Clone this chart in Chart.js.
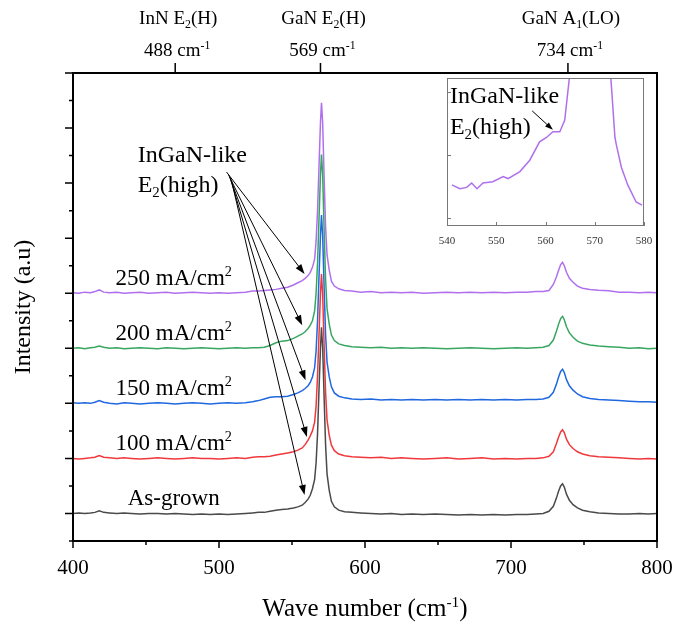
<!DOCTYPE html>
<html>
<head>
<meta charset="utf-8">
<script src="https://cdn.jsdelivr.net/npm/chart.js@4"></script>
<style>
  body { margin: 0; background: #fff; }
  #wrap { position: relative; width: 676px; height: 628px; }
  #main { position: absolute; left: 0; top: 0; }
  #inset { position: absolute; left: 430px; top: 70px; }
</style>
</head>
<body>
<div id="wrap">
  <canvas id="main" width="676" height="628"></canvas>
  <canvas id="inset" width="226" height="186"></canvas>
</div>
<script>
// wave number axis, shared by all five spectra (cm-1)
const wave = [400, 404, 408, 412, 415, 418, 421, 425, 430, 435,
  440, 446, 452, 458, 464, 470, 476, 482, 488, 494,
  500, 506, 512, 518, 523, 527, 531, 535, 539, 543,
  547, 551, 554, 557, 559, 561, 562.5, 564, 565.5, 566.5,
  567.5, 568.5, 569.5, 570.2, 571, 572, 573, 574, 575.5, 577,
  579, 582, 586, 591, 597, 604, 611, 618, 625, 632,
  640, 648, 656, 664, 672, 680, 688, 696, 704, 711,
  717, 722, 726, 729, 731, 732.5, 734, 735.3, 736.5, 738,
  740, 742.5, 745.5, 749, 754, 760, 767, 774, 781, 788,
  794, 800];

// intensities, each relative to its own baseline
const asGrown = [0.00, 0.01, 0.00, 0.01, 0.02, 0.05, 0.02, 0.01, 0.00, 0.01,
  0.00, -0.01, 0.00, 0.00, -0.01, 0.00, -0.01, -0.02, -0.01, -0.02,
  -0.01, -0.02, -0.01, 0.00, 0.01, 0.02, 0.02, 0.04, 0.06, 0.07,
  0.08, 0.1, 0.12, 0.15, 0.2, 0.26, 0.33, 0.45, 0.62, 0.92,
  1.45, 2.25, 3.0, 3.38, 3.02, 2.1, 1.25, 0.72, 0.42, 0.22,
  0.12, 0.06, 0.03, 0.02, 0.01, 0.00, -0.01, 0.00, -0.02, -0.01,
  -0.02, -0.01, -0.02, -0.03, -0.02, -0.03, -0.02, -0.03, -0.02, -0.02,
  -0.01, 0.00, 0.04, 0.13, 0.27, 0.4, 0.5, 0.54, 0.48, 0.35,
  0.24, 0.16, 0.1, 0.06, 0.03, 0.01, 0.00, -0.01, -0.01, 0.00,
  -0.01, 0.00];

const i100 = [0.00, -0.01, 0.00, 0.01, 0.02, 0.05, 0.02, 0.01, 0.00, 0.01,
  0.00, -0.01, 0.00, 0.01, 0.00, -0.01, 0.00, 0.01, 0.00, 0.00,
  -0.01, 0.00, 0.01, 0.00, 0.02, 0.03, 0.03, 0.04, 0.06, 0.08,
  0.1, 0.12, 0.15, 0.19, 0.25, 0.33, 0.41, 0.5, 0.66, 0.95,
  1.5, 2.25, 3.0, 3.35, 2.98, 2.05, 1.2, 0.7, 0.42, 0.24,
  0.14, 0.08, 0.05, 0.03, 0.02, 0.01, 0.02, 0.00, 0.01, 0.00,
  -0.01, 0.00, 0.01, -0.01, 0.00, 0.01, -0.01, 0.00, -0.01, 0.00,
  0.00, 0.01, 0.04, 0.12, 0.26, 0.38, 0.48, 0.52, 0.47, 0.35,
  0.25, 0.18, 0.12, 0.08, 0.05, 0.03, 0.02, 0.01, 0.00, -0.01,
  0.00, -0.01];

const i150 = [0.01, 0.00, 0.01, 0.00, 0.02, 0.05, 0.02, 0.00, -0.01, 0.01,
  0.00, -0.01, 0.00, 0.01, 0.00, -0.01, 0.00, 0.01, 0.00, -0.01,
  0.00, 0.01, 0.00, 0.01, 0.03, 0.05, 0.08, 0.11, 0.12, 0.12,
  0.13, 0.16, 0.19, 0.23, 0.27, 0.32, 0.38, 0.48, 0.65, 0.95,
  1.5, 2.3, 3.05, 3.42, 3.05, 2.1, 1.25, 0.75, 0.48, 0.3,
  0.19, 0.13, 0.1, 0.08, 0.07, 0.08, 0.06, 0.07, 0.06, 0.07,
  0.06, 0.07, 0.06, 0.07, 0.06, 0.07, 0.06, 0.07, 0.06, 0.07,
  0.07, 0.08, 0.11, 0.2, 0.34, 0.47, 0.58, 0.62, 0.56, 0.43,
  0.32, 0.24, 0.17, 0.12, 0.09, 0.07, 0.06, 0.05, 0.04, 0.03,
  0.03, 0.02];

const i200 = [0.00, 0.01, -0.01, 0.01, 0.02, 0.04, 0.02, 0.00, 0.01, -0.01,
  0.00, 0.01, 0.00, -0.01, 0.01, 0.00, -0.01, 0.00, 0.01, 0.00,
  -0.01, 0.00, 0.01, 0.00, 0.01, 0.01, 0.02, 0.05, 0.1, 0.13,
  0.14, 0.18, 0.22, 0.26, 0.3, 0.36, 0.42, 0.5, 0.68, 1.0,
  1.55, 2.35, 3.15, 3.52, 3.15, 2.15, 1.25, 0.72, 0.44, 0.24,
  0.14, 0.08, 0.05, 0.03, 0.02, 0.01, 0.02, 0.00, 0.01, 0.00,
  0.01, 0.00, -0.01, 0.00, 0.01, 0.00, -0.01, 0.00, 0.01, 0.00,
  0.01, 0.02, 0.05, 0.15, 0.3, 0.43, 0.54, 0.58, 0.52, 0.39,
  0.28, 0.2, 0.13, 0.09, 0.06, 0.04, 0.03, 0.02, 0.00, 0.01,
  -0.01, 0.00];

const i250 = [0.01, 0.00, 0.02, 0.01, 0.03, 0.06, 0.02, 0.01, 0.02, 0.00,
  0.01, 0.02, 0.00, 0.01, 0.02, 0.00, 0.01, 0.02, 0.01, 0.00,
  0.01, 0.00, 0.01, 0.02, 0.04, 0.04, 0.05, 0.06, 0.07, 0.09,
  0.11, 0.15, 0.19, 0.23, 0.27, 0.32, 0.38, 0.47, 0.62, 0.95,
  1.5, 2.3, 3.1, 3.46, 3.1, 2.1, 1.2, 0.7, 0.42, 0.22,
  0.13, 0.08, 0.05, 0.04, 0.02, 0.03, 0.01, 0.02, 0.01, 0.02,
  0.00, 0.01, 0.02, 0.01, 0.02, 0.01, 0.02, 0.01, 0.02, 0.02,
  0.03, 0.03, 0.05, 0.16, 0.29, 0.41, 0.52, 0.56, 0.5, 0.38,
  0.27, 0.2, 0.13, 0.09, 0.07, 0.055, 0.045, 0.02, 0.02, 0.01,
  0.02, 0.01];

const seriesValues = [asGrown, i100, i150, i200, i250];
const offsets = [0, 1, 2, 3, 4];
const seriesNames = ["As-grown", "100 mA/cm^{2}", "150 mA/cm^{2}", "200 mA/cm^{2}", "250 mA/cm^{2}"];

// top axis: peak positions and their labels
const topTickPos = [470, 569.5, 739];
const topTickLabels = [
  ["InN E_{2}(H)", "488 cm^{-1}"],
  ["GaN E_{2}(H)", "569 cm^{-1}"],
  ["GaN A_{1}(LO)", "734 cm^{-1}"],
];

// inset: zoom of the 250 mA/cm2 spectrum
const insetWave = [541, 542.6, 544, 545, 546.1, 547.3, 549.3, 551.4, 552.4, 554.8,
  556.8, 558.8, 560.2, 561.5, 562.9, 563.9, 564.9, 565.6, 567, 569.5,
  571, 572.5, 573.2, 574.1, 574.4, 575.4, 576.7, 578.4, 579.6];
const insetCounts = [1.53, 1.47, 1.49, 1.56, 1.47, 1.56, 1.58, 1.66, 1.63, 1.74,
  1.92, 2.21, 2.28, 2.37, 2.37, 2.55, 3.26, 4.5, 8, 14,
  11, 5, 3.3, 2.28, 2.16, 1.81, 1.53, 1.26, 1.21];
const insetTicksX = [540, 550, 560, 570, 580];
const insetTicksY = [1, 2, 3];

const xTitle = "Wave number (cm^{-1})";
const yTitle = "Intensity (a.u)";
const noteText = ["InGaN-like", "E_{2}(high)"];

const FONT = '"Liberation Serif", "Times New Roman", serif';
const colors = ["#4a4a4a", "#f0383c", "#1f68e0", "#38a660", "#b070ee"];
Chart.defaults.font.family = FONT;

// text with _{sub} and ^{sup} pieces
function parseRich(str) {
  const parts = [];
  const re = /([_^])\{([^}]*)\}/g;
  let last = 0, m;
  while ((m = re.exec(str))) {
    if (m.index > last) parts.push({ t: str.slice(last, m.index), k: "" });
    parts.push({ t: m[2], k: m[1] });
    last = re.lastIndex;
  }
  if (last < str.length) parts.push({ t: str.slice(last), k: "" });
  return parts;
}

function drawRich(ctx, str, x, y, size, align) {
  const parts = parseRich(str);
  const small = size * 0.62;
  let w = 0;
  parts.forEach((p) => {
    ctx.font = (p.k ? small : size) + "px " + FONT;
    p.w = ctx.measureText(p.t).width;
    w += p.w;
  });
  let cx = align === "center" ? x - w / 2 : x;
  ctx.textAlign = "left";
  ctx.textBaseline = "alphabetic";
  parts.forEach((p) => {
    ctx.font = (p.k ? small : size) + "px " + FONT;
    let dy = 0;
    if (p.k === "^") dy = -size * 0.38;
    if (p.k === "_") dy = size * 0.22;
    ctx.fillText(p.t, cx, y + dy);
    cx += p.w;
  });
}

function arrow(ctx, x1, y1, x2, y2, head) {
  const ang = Math.atan2(y2 - y1, x2 - x1);
  const c = Math.cos(ang), s = Math.sin(ang);
  ctx.beginPath();
  ctx.moveTo(x1, y1);
  ctx.lineTo(x2 - head * 0.7 * c, y2 - head * 0.7 * s);
  ctx.stroke();
  ctx.beginPath();
  ctx.moveTo(x2, y2);
  ctx.lineTo(x2 - head * c + head * 0.35 * s, y2 - head * s - head * 0.35 * c);
  ctx.lineTo(x2 - head * c - head * 0.35 * s, y2 - head * s + head * 0.35 * c);
  ctx.closePath();
  ctx.fill();
}

// frame, tick marks and the text notes of the main plot
const decor = {
  id: "decor",
  afterDraw(chart) {
    const { ctx, chartArea: a, scales } = chart;
    const { x, x2, y } = scales;
    ctx.save();
    ctx.strokeStyle = "#000";
    ctx.fillStyle = "#000";
    ctx.lineWidth = 2;
    ctx.strokeRect(a.left, a.top, a.right - a.left, a.bottom - a.top);
    ctx.lineWidth = 1.5;
    ctx.beginPath();
    x.ticks.forEach((t) => {
      const px = x.getPixelForValue(t.value);
      const len = t.value % 100 === 0 ? 7 : 4;
      ctx.moveTo(px, a.bottom);
      ctx.lineTo(px, a.bottom + len);
    });
    y.ticks.forEach((t) => {
      const py = y.getPixelForValue(t.value);
      const len = Number.isInteger(t.value) ? 8 : 4;
      ctx.moveTo(a.left - len, py);
      ctx.lineTo(a.left, py);
    });
    x2.ticks.forEach((t) => {
      const px = x2.getPixelForValue(t.value);
      ctx.moveTo(px, a.top - 10);
      ctx.lineTo(px, a.top);
    });
    ctx.stroke();

    // top axis labels
    x2.ticks.forEach((t, i) => {
      const px = x2.getPixelForValue(t.value);
      drawRich(ctx, topTickLabels[i][0], px + 3, a.top - 49, 19, "center");
      drawRich(ctx, topTickLabels[i][1], px + 2, a.top - 17, 19, "center");
    });

    // x title
    drawRich(ctx, xTitle, (a.left + a.right) / 2, a.bottom + 75, 25, "center");

    // series names
    seriesNames.forEach((name, k) => {
      drawRich(ctx, name, x.getPixelForValue(469), y.getPixelForValue(offsets[k] + 0.15), 23, "center");
    });

    // InGaN-like note with arrows
    drawRich(ctx, noteText[0], x.getPixelForValue(444.3), y.getPixelForValue(6.38), 24, "left");
    drawRich(ctx, noteText[1], x.getPixelForValue(444.3), y.getPixelForValue(5.84), 24, "left");
    const starts = [[508.6, 6.04], [507.9, 6.075], [507.3, 6.11], [506.6, 6.147], [505.2, 6.2]];
    const tips = [[558.6, 0.335], [560.2, 1.39], [559.3, 2.42], [557.0, 3.42], [558.6, 4.35]];
    ctx.lineWidth = 1;
    starts.forEach((s, k) => {
      arrow(ctx, x.getPixelForValue(s[0]), y.getPixelForValue(s[1]),
        x.getPixelForValue(tips[k][0]), y.getPixelForValue(tips[k][1]), 10);
    });
    ctx.restore();
  },
};

const datasets = seriesValues.map((vals, k) => ({
  label: seriesNames[k],
  data: wave.map((w, i) => ({ x: w, y: vals[i] + offsets[k] })),
  borderColor: colors[k],
  borderWidth: 1.5,
  pointRadius: 0,
  tension: 0,
}));

const noSidePad = (s) => { s.paddingLeft = 0; s.paddingRight = 0; };

new Chart(document.getElementById("main"), {
  type: "line",
  data: { datasets },
  options: {
    responsive: false,
    animation: false,
    events: [],
    layout: { padding: { left: 0, right: 19, top: 0, bottom: 0 } },
    plugins: { legend: { display: false }, tooltip: { enabled: false } },
    scales: {
      x: {
        type: "linear",
        position: "bottom",
        min: 400,
        max: 800,
        ticks: {
          stepSize: 50,
          autoSkip: false,
          maxRotation: 0,
          padding: 7,
          color: "#000",
          font: { size: 21 },
          callback: (v) => (v % 100 === 0 ? v : ""),
        },
        grid: { display: false },
        border: { display: false },
        afterFit: (s) => { s.height = 87; noSidePad(s); },
      },
      x2: {
        type: "linear",
        position: "top",
        min: 400,
        max: 800,
        afterBuildTicks: (s) => { s.ticks = topTickPos.map((v) => ({ value: v })); },
        ticks: { display: false },
        grid: { display: false },
        border: { display: false },
        afterFit: (s) => { s.height = 73; noSidePad(s); },
      },
      y: {
        min: -0.5,
        max: 8,
        ticks: { stepSize: 0.5, display: false },
        grid: { display: false },
        border: { display: false },
        title: {
          display: true,
          text: yTitle,
          color: "#000",
          font: { size: 24 },
          padding: { top: 9, bottom: 0 },
        },
        afterFit: (s) => { s.width = 73; },
      },
    },
  },
  plugins: [decor],
});

// inset frame, inward ticks and its note
const insetDecor = {
  id: "insetDecor",
  beforeDatasetsDraw(chart) {
    const { ctx, chartArea: a } = chart;
    ctx.save();
    ctx.fillStyle = "#fff";
    ctx.fillRect(a.left, a.top, a.right - a.left, a.bottom - a.top);
    ctx.restore();
  },
  afterDraw(chart) {
    const { ctx, chartArea: a, scales } = chart;
    const { x, y } = scales;
    ctx.save();
    ctx.strokeStyle = "#777";
    ctx.lineWidth = 1;
    ctx.strokeRect(a.left + 0.5, a.top + 0.5, a.right - a.left - 1, a.bottom - a.top - 1);
    ctx.beginPath();
    insetTicksX.forEach((v) => {
      const px = Math.round(x.getPixelForValue(v)) + 0.5;
      ctx.moveTo(px, a.bottom);
      ctx.lineTo(px, a.bottom - 4);
    });
    insetTicksY.forEach((v) => {
      const py = Math.round(y.getPixelForValue(v)) + 0.5;
      ctx.moveTo(a.left, py);
      ctx.lineTo(a.left + 4, py);
    });
    ctx.stroke();
    ctx.fillStyle = "#000";
    ctx.strokeStyle = "#000";
    drawRich(ctx, noteText[0], x.getPixelForValue(540.6), y.getPixelForValue(2.82), 24, "left");
    drawRich(ctx, noteText[1], x.getPixelForValue(540.6), y.getPixelForValue(2.34), 24, "left");
    ctx.lineWidth = 1;
    arrow(ctx, x.getPixelForValue(557.3), y.getPixelForValue(2.7),
      x.getPixelForValue(561.5), y.getPixelForValue(2.4), 8);
    ctx.restore();
  },
};

new Chart(document.getElementById("inset"), {
  type: "line",
  data: {
    datasets: [{
      data: insetWave.map((w, i) => ({ x: w, y: insetCounts[i] })),
      borderColor: colors[4],
      borderWidth: 1.5,
      pointRadius: 0,
      tension: 0,
    }],
  },
  options: {
    responsive: false,
    animation: false,
    events: [],
    layout: { padding: { left: 17, right: 12, top: 8, bottom: 0 } },
    plugins: { legend: { display: false }, tooltip: { enabled: false } },
    scales: {
      x: {
        type: "linear",
        min: 540,
        max: 580,
        ticks: { stepSize: 10, padding: 1, maxRotation: 0, color: "#333", font: { size: 11 } },
        grid: { display: false },
        border: { display: false },
        afterFit: (s) => { s.height = 30; noSidePad(s); },
      },
      y: { display: false, min: 0.88, max: 3.22 },
    },
  },
  plugins: [insetDecor],
});
</script>
